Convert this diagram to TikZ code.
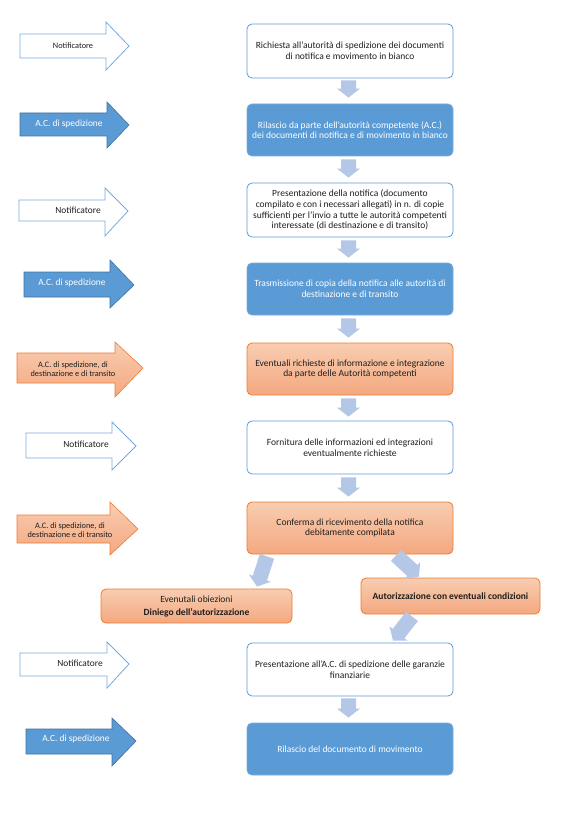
\documentclass[tikz,border=0pt]{standalone}
\usepackage{fontspec}
\setmainfont{Carlito}
\usetikzlibrary{calc}
\definecolor{bl}{RGB}{91,155,213}
\definecolor{blline}{RGB}{120,170,220}
\definecolor{bldark}{RGB}{65,113,156}
\definecolor{conn}{RGB}{180,199,231}
\definecolor{orb}{RGB}{237,125,49}
\definecolor{ortop}{RGB}{248,205,177}
\definecolor{orbot}{RGB}{244,168,128}
\definecolor{txt}{RGB}{30,30,30}
\tikzset{
 box/.style={rounded corners=5pt, minimum width=206pt, minimum height=52pt, align=center,
   font=\fontsize{9.5}{10.7}\selectfont, inner sep=0pt, text=txt},
 wbox/.style={box, draw=bl, fill=white, line width=0.8pt},
 bbox/.style={box, draw=blline, fill=bl, text=white, line width=0.8pt},
 obox/.style={box, draw=orb, top color=ortop, bottom color=orbot, line width=0.8pt},
 warr/.style={draw=blline, fill=white, line width=0.8pt},
 barr/.style={draw=bldark, fill=bl, line width=0.6pt},
 oarr/.style={draw=orb, top color=ortop, bottom color=orbot, line width=0.6pt},
 atext/.style={font=\fontsize{9.4}{10}\selectfont, align=center, inner sep=0pt, text=txt},
 btext/.style={atext, text=white},
}
\newcommand\fatconn[2]{%
  \coordinate (tmpc) at ($(#2)!9pt!(#1)$);
  \fill[conn] ($(#1)!7.5pt!-90:(#2)$) -- ($(tmpc)!7.5pt!90:(#1)$) -- ($(tmpc)!11.5pt!90:(#1)$) -- (#2)
    -- ($(tmpc)!11.5pt!-90:(#1)$) -- ($(tmpc)!7.5pt!-90:(#1)$) -- ($(#1)!7.5pt!90:(#2)$) -- cycle;}
\begin{document}
\begin{tikzpicture}[x=1pt,y=-1pt]
\useasboundingbox (0,0) rectangle (574,834);
\fill[white] (0,0) rectangle (574,834);

% ---- right column boxes
\node[wbox, minimum height=54pt] (b1) at (350,51) {Richiesta all’autorità di spedizione dei documenti\\di notifica e movimento in bianco};
\node[bbox] (b2) at (350,130) {Rilascio da parte dell’autorità competente (A.C.)\\dei documenti di notifica e di movimento in bianco};
\node[wbox, minimum height=54pt] (b3) at (350,210) {Presentazione della notifica (documento\\compilato e con i necessari allegati) in n. di copie\\sufficienti per l’invio a tutte le autorità competenti\\interessate (di destinazione e di transito)};
\node[bbox] (b4) at (350,289) {Trasmissione di copia della notifica alle autorità di\\destinazione e di transito};
\node[obox] (b5) at (350,369) {Eventuali richieste di informazione e integrazione\\da parte delle Autorità competenti};
\node[wbox, minimum height=53pt] (b6) at (350,447.5) {Fornitura delle informazioni ed integrazioni\\eventualmente richieste};
\node[obox] (b7) at (350,528) {Conferma di ricevimento della notifica\\debitamente compilata};
\node[obox, minimum width=191pt, minimum height=34pt, font=\fontsize{9.5}{13}\selectfont] (obj) at (196.5,606) {Evenutali obiezioni\\\textbf{Diniego dell'autorizzazione}};
\node[obox, minimum width=179pt, minimum height=36pt] (aut) at (450.5,596) {\textbf{Autorizzazione con eventuali condizioni}};
\node[wbox, minimum height=53pt] (b8) at (350,669.5) {Presentazione all’A.C. di spedizione delle garanzie\\finanziarie};
\node[bbox] (b9) at (350,749) {Rilascio del documento di movimento};

% ---- connectors
\coordinate (s1) at ($(b1.south)+(-1.5,2)$);  \coordinate (e1) at ($(b2.north)+(-1.5,-6)$);
\coordinate (s2) at ($(b2.south)+(-1.5,3)$);  \coordinate (e2) at ($(b3.north)+(-1.5,-5)$);
\coordinate (s3) at ($(b3.south)+(-1.5,3)$);  \coordinate (e3) at ($(b4.north)+(-1.5,-5)$);
\coordinate (s4) at ($(b4.south)+(-1.5,3)$);  \coordinate (e4) at ($(b5.north)+(-1.5,-5)$);
\coordinate (s5) at ($(b5.south)+(-1.5,3)$);  \coordinate (e5) at ($(b6.north)+(-1.5,-4)$);
\coordinate (s6) at ($(b6.south)+(-1.5,3)$);  \coordinate (e6) at ($(b7.north)+(-1.5,-5)$);
\coordinate (s7) at ($(b7.south)+(-83,2)$);   \coordinate (e7) at ($(obj.north)+(60.5,-2)$);
\coordinate (s8) at ($(b7.south)+(46,1)$);    \coordinate (e8) at ($(aut.north)+(-31.5,-1)$);
\coordinate (s9) at ($(aut.south)+(-38.5,2)$); \coordinate (e9) at ($(b8.north)+(43,-2)$);
\coordinate (s10) at ($(b8.south)+(-1.5,2)$); \coordinate (e10) at ($(b9.north)+(-1.5,-5)$);
\fatconn{s1}{e1}
\fatconn{s2}{e2}
\fatconn{s3}{e3}
\fatconn{s4}{e4}
\fatconn{s5}{e5}
\fatconn{s6}{e6}
\fatconn{s7}{e7}
\fatconn{s8}{e8}
\fatconn{s9}{e9}
\fatconn{s10}{e10}

% ---- left block arrows
\draw[warr] (20,34) -- (106,34) -- (106,22) -- (129,46) -- (106,70) -- (106,58) -- (20,58) -- cycle;
\node[atext, font=\fontsize{8.3}{9}\selectfont] (a1) at (73,46) {Notificatore};

\draw[barr] (20,113) -- (107,113) -- (107,102) -- (129,125) -- (107,148) -- (107,136) -- (20,136) -- cycle;
\node[btext] (a2) at (69,124) {A.C. di spedizione};

\draw[warr] (19,200) -- (105,200) -- (105,188) -- (128,211) -- (105,236) -- (105,221) -- (19,221) -- cycle;
\node[atext] (a3) at (78,210) {Notificatore};

\draw[barr] (24,272) -- (110,272) -- (110,260) -- (134,285) -- (110,308) -- (110,297) -- (24,297) -- cycle;
\node[btext] (a4) at (72,283) {A.C. di spedizione};

\draw[oarr] (17,353) -- (115,353) -- (115,342) -- (143,368) -- (115,397) -- (115,383) -- (17,383) -- cycle;
\node[atext, font=\fontsize{8.3}{9.2}\selectfont] (a5) at (73,369.5) {A.C. di spedizione, di\\destinazione e di transito};

\draw[warr] (26,433) -- (112,433) -- (112,422) -- (136,446) -- (112,470) -- (112,458) -- (26,458) -- cycle;
\node[atext] (a6) at (86,444) {Notificatore};

\draw[oarr] (17,515) -- (110,515) -- (110,502) -- (138,529) -- (110,555) -- (110,543) -- (17,543) -- cycle;
\node[atext, font=\fontsize{8.3}{9.2}\selectfont] (a7) at (70,530.5) {A.C. di spedizione, di\\destinazione e di transito};

\draw[warr] (20,653) -- (107,653) -- (107,642) -- (129,664) -- (107,688) -- (107,676) -- (20,676) -- cycle;
\node[atext] (a8) at (80,663) {Notificatore};

\draw[barr] (26,729) -- (112,729) -- (112,718) -- (136,741) -- (112,766) -- (112,754) -- (26,754) -- cycle;
\node[btext] (a9) at (76,739) {A.C. di spedizione};
\end{tikzpicture}
\end{document}
